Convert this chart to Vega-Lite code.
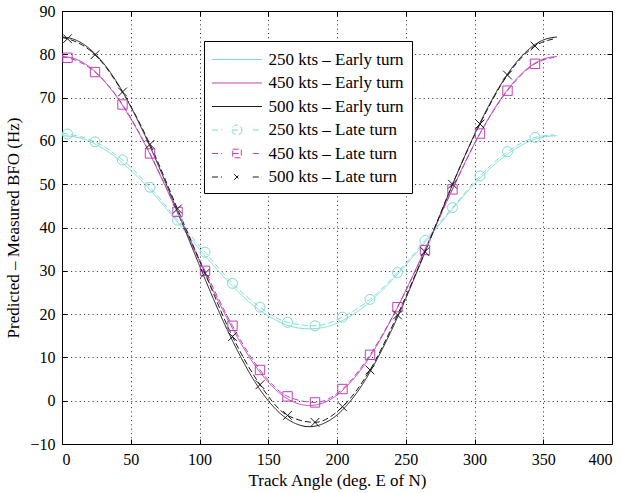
{
  "$schema": "https://vega.github.io/schema/vega-lite/v6.json",
  "width": 550,
  "height": 433,
  "autosize": {"type": "none"},
  "padding": {"left": 62, "top": 11, "right": 9, "bottom": 49},
  "background": "white",
  "config": {
    "font": "Liberation Serif",
    "view": {"stroke": "black", "strokeWidth": 1},
    "axis": {
      "labelFont": "Liberation Serif", "labelFontSize": 16, "labelColor": "black",
      "titleFont": "Liberation Serif", "titleFontSize": 17, "titleFontWeight": "normal", "titleColor": "black",
      "domainColor": "black", "tickColor": "black",
      "gridColor": "black", "gridDash": [1, 3.3], "gridOpacity": 0.85, "gridWidth": 1
    },
    "legend": {"labelFont": "Liberation Serif", "labelFontSize": 17, "labelColor": "black"}
  },
  "data": {"values": [
    {"angle":0,"bfo":61.2,"series":"250 kts – Early turn","m":0},{"angle":10,"bfo":60.9,"series":"250 kts – Early turn","m":0},{"angle":20,"bfo":59.9,"series":"250 kts – Early turn","m":0},{"angle":30,"bfo":58.2,"series":"250 kts – Early turn","m":0},{"angle":40,"bfo":56.0,"series":"250 kts – Early turn","m":0},{"angle":50,"bfo":53.2,"series":"250 kts – Early turn","m":0},{"angle":60,"bfo":50.1,"series":"250 kts – Early turn","m":0},{"angle":70,"bfo":46.5,"series":"250 kts – Early turn","m":0},{"angle":80,"bfo":42.8,"series":"250 kts – Early turn","m":0},{"angle":90,"bfo":38.9,"series":"250 kts – Early turn","m":0},{"angle":100,"bfo":35.0,"series":"250 kts – Early turn","m":0},{"angle":110,"bfo":31.3,"series":"250 kts – Early turn","m":0},{"angle":120,"bfo":27.8,"series":"250 kts – Early turn","m":0},{"angle":130,"bfo":24.6,"series":"250 kts – Early turn","m":0},{"angle":140,"bfo":21.8,"series":"250 kts – Early turn","m":0},{"angle":150,"bfo":19.6,"series":"250 kts – Early turn","m":0},{"angle":160,"bfo":17.9,"series":"250 kts – Early turn","m":0},{"angle":170,"bfo":16.9,"series":"250 kts – Early turn","m":0},{"angle":180,"bfo":16.6,"series":"250 kts – Early turn","m":0},{"angle":190,"bfo":16.9,"series":"250 kts – Early turn","m":0},{"angle":200,"bfo":17.9,"series":"250 kts – Early turn","m":0},{"angle":210,"bfo":19.6,"series":"250 kts – Early turn","m":0},{"angle":220,"bfo":21.8,"series":"250 kts – Early turn","m":0},{"angle":230,"bfo":24.6,"series":"250 kts – Early turn","m":0},{"angle":240,"bfo":27.8,"series":"250 kts – Early turn","m":0},{"angle":250,"bfo":31.3,"series":"250 kts – Early turn","m":0},{"angle":260,"bfo":35.0,"series":"250 kts – Early turn","m":0},{"angle":270,"bfo":38.9,"series":"250 kts – Early turn","m":0},{"angle":280,"bfo":42.8,"series":"250 kts – Early turn","m":0},{"angle":290,"bfo":46.5,"series":"250 kts – Early turn","m":0},{"angle":300,"bfo":50.1,"series":"250 kts – Early turn","m":0},{"angle":310,"bfo":53.2,"series":"250 kts – Early turn","m":0},{"angle":320,"bfo":56.0,"series":"250 kts – Early turn","m":0},{"angle":330,"bfo":58.2,"series":"250 kts – Early turn","m":0},{"angle":340,"bfo":59.9,"series":"250 kts – Early turn","m":0},{"angle":350,"bfo":60.9,"series":"250 kts – Early turn","m":0},{"angle":360,"bfo":61.2,"series":"250 kts – Early turn","m":0},
    {"angle":0,"bfo":79.5,"series":"450 kts – Early turn","m":0},{"angle":10,"bfo":78.9,"series":"450 kts – Early turn","m":0},{"angle":20,"bfo":77.1,"series":"450 kts – Early turn","m":0},{"angle":30,"bfo":74.1,"series":"450 kts – Early turn","m":0},{"angle":40,"bfo":70.1,"series":"450 kts – Early turn","m":0},{"angle":50,"bfo":65.1,"series":"450 kts – Early turn","m":0},{"angle":60,"bfo":59.4,"series":"450 kts – Early turn","m":0},{"angle":70,"bfo":53.0,"series":"450 kts – Early turn","m":0},{"angle":80,"bfo":46.2,"series":"450 kts – Early turn","m":0},{"angle":90,"bfo":39.2,"series":"450 kts – Early turn","m":0},{"angle":100,"bfo":32.2,"series":"450 kts – Early turn","m":0},{"angle":110,"bfo":25.4,"series":"450 kts – Early turn","m":0},{"angle":120,"bfo":19.1,"series":"450 kts – Early turn","m":0},{"angle":130,"bfo":13.3,"series":"450 kts – Early turn","m":0},{"angle":140,"bfo":8.3,"series":"450 kts – Early turn","m":0},{"angle":150,"bfo":4.3,"series":"450 kts – Early turn","m":0},{"angle":160,"bfo":1.3,"series":"450 kts – Early turn","m":0},{"angle":170,"bfo":-0.5,"series":"450 kts – Early turn","m":0},{"angle":180,"bfo":-1.1,"series":"450 kts – Early turn","m":0},{"angle":190,"bfo":-0.5,"series":"450 kts – Early turn","m":0},{"angle":200,"bfo":1.3,"series":"450 kts – Early turn","m":0},{"angle":210,"bfo":4.3,"series":"450 kts – Early turn","m":0},{"angle":220,"bfo":8.3,"series":"450 kts – Early turn","m":0},{"angle":230,"bfo":13.3,"series":"450 kts – Early turn","m":0},{"angle":240,"bfo":19.1,"series":"450 kts – Early turn","m":0},{"angle":250,"bfo":25.4,"series":"450 kts – Early turn","m":0},{"angle":260,"bfo":32.2,"series":"450 kts – Early turn","m":0},{"angle":270,"bfo":39.2,"series":"450 kts – Early turn","m":0},{"angle":280,"bfo":46.2,"series":"450 kts – Early turn","m":0},{"angle":290,"bfo":53.0,"series":"450 kts – Early turn","m":0},{"angle":300,"bfo":59.4,"series":"450 kts – Early turn","m":0},{"angle":310,"bfo":65.1,"series":"450 kts – Early turn","m":0},{"angle":320,"bfo":70.1,"series":"450 kts – Early turn","m":0},{"angle":330,"bfo":74.1,"series":"450 kts – Early turn","m":0},{"angle":340,"bfo":77.1,"series":"450 kts – Early turn","m":0},{"angle":350,"bfo":78.9,"series":"450 kts – Early turn","m":0},{"angle":360,"bfo":79.5,"series":"450 kts – Early turn","m":0},
    {"angle":0,"bfo":84.0,"series":"500 kts – Early turn","m":0},{"angle":10,"bfo":83.3,"series":"500 kts – Early turn","m":0},{"angle":20,"bfo":81.3,"series":"500 kts – Early turn","m":0},{"angle":30,"bfo":78.0,"series":"500 kts – Early turn","m":0},{"angle":40,"bfo":73.5,"series":"500 kts – Early turn","m":0},{"angle":50,"bfo":67.9,"series":"500 kts – Early turn","m":0},{"angle":60,"bfo":61.5,"series":"500 kts – Early turn","m":0},{"angle":70,"bfo":54.4,"series":"500 kts – Early turn","m":0},{"angle":80,"bfo":46.8,"series":"500 kts – Early turn","m":0},{"angle":90,"bfo":39.0,"series":"500 kts – Early turn","m":0},{"angle":100,"bfo":31.2,"series":"500 kts – Early turn","m":0},{"angle":110,"bfo":23.6,"series":"500 kts – Early turn","m":0},{"angle":120,"bfo":16.5,"series":"500 kts – Early turn","m":0},{"angle":130,"bfo":10.1,"series":"500 kts – Early turn","m":0},{"angle":140,"bfo":4.5,"series":"500 kts – Early turn","m":0},{"angle":150,"bfo":0.0,"series":"500 kts – Early turn","m":0},{"angle":160,"bfo":-3.3,"series":"500 kts – Early turn","m":0},{"angle":170,"bfo":-5.3,"series":"500 kts – Early turn","m":0},{"angle":180,"bfo":-6.0,"series":"500 kts – Early turn","m":0},{"angle":190,"bfo":-5.3,"series":"500 kts – Early turn","m":0},{"angle":200,"bfo":-3.3,"series":"500 kts – Early turn","m":0},{"angle":210,"bfo":0.0,"series":"500 kts – Early turn","m":0},{"angle":220,"bfo":4.5,"series":"500 kts – Early turn","m":0},{"angle":230,"bfo":10.1,"series":"500 kts – Early turn","m":0},{"angle":240,"bfo":16.5,"series":"500 kts – Early turn","m":0},{"angle":250,"bfo":23.6,"series":"500 kts – Early turn","m":0},{"angle":260,"bfo":31.2,"series":"500 kts – Early turn","m":0},{"angle":270,"bfo":39.0,"series":"500 kts – Early turn","m":0},{"angle":280,"bfo":46.8,"series":"500 kts – Early turn","m":0},{"angle":290,"bfo":54.4,"series":"500 kts – Early turn","m":0},{"angle":300,"bfo":61.5,"series":"500 kts – Early turn","m":0},{"angle":310,"bfo":67.9,"series":"500 kts – Early turn","m":0},{"angle":320,"bfo":73.5,"series":"500 kts – Early turn","m":0},{"angle":330,"bfo":78.0,"series":"500 kts – Early turn","m":0},{"angle":340,"bfo":81.3,"series":"500 kts – Early turn","m":0},{"angle":350,"bfo":83.3,"series":"500 kts – Early turn","m":0},{"angle":360,"bfo":84.0,"series":"500 kts – Early turn","m":0},
    {"angle":0,"bfo":61.8,"series":"250 kts – Late turn","m":0},{"angle":4,"bfo":61.6,"series":"250 kts – Late turn","m":1},{"angle":24,"bfo":59.8,"series":"250 kts – Late turn","m":1},{"angle":44,"bfo":55.6,"series":"250 kts – Late turn","m":1},{"angle":64,"bfo":49.3,"series":"250 kts – Late turn","m":1},{"angle":84,"bfo":41.7,"series":"250 kts – Late turn","m":1},{"angle":104,"bfo":34.3,"series":"250 kts – Late turn","m":1},{"angle":124,"bfo":27.1,"series":"250 kts – Late turn","m":1},{"angle":144,"bfo":21.6,"series":"250 kts – Late turn","m":1},{"angle":164,"bfo":18.1,"series":"250 kts – Late turn","m":1},{"angle":184,"bfo":17.3,"series":"250 kts – Late turn","m":1},{"angle":204,"bfo":19.3,"series":"250 kts – Late turn","m":1},{"angle":224,"bfo":23.4,"series":"250 kts – Late turn","m":1},{"angle":244,"bfo":29.6,"series":"250 kts – Late turn","m":1},{"angle":264,"bfo":37.0,"series":"250 kts – Late turn","m":1},{"angle":284,"bfo":44.6,"series":"250 kts – Late turn","m":1},{"angle":304,"bfo":51.9,"series":"250 kts – Late turn","m":1},{"angle":324,"bfo":57.5,"series":"250 kts – Late turn","m":1},{"angle":344,"bfo":60.8,"series":"250 kts – Late turn","m":1},{"angle":358,"bfo":61.4,"series":"250 kts – Late turn","m":0},
    {"angle":0,"bfo":79.4,"series":"450 kts – Late turn","m":0},{"angle":4,"bfo":79.2,"series":"450 kts – Late turn","m":1},{"angle":24,"bfo":75.9,"series":"450 kts – Late turn","m":1},{"angle":44,"bfo":68.4,"series":"450 kts – Late turn","m":1},{"angle":64,"bfo":57.1,"series":"450 kts – Late turn","m":1},{"angle":84,"bfo":43.6,"series":"450 kts – Late turn","m":1},{"angle":104,"bfo":30.0,"series":"450 kts – Late turn","m":1},{"angle":124,"bfo":17.3,"series":"450 kts – Late turn","m":1},{"angle":144,"bfo":7.1,"series":"450 kts – Late turn","m":1},{"angle":164,"bfo":1.0,"series":"450 kts – Late turn","m":1},{"angle":184,"bfo":-0.4,"series":"450 kts – Late turn","m":1},{"angle":204,"bfo":2.7,"series":"450 kts – Late turn","m":1},{"angle":224,"bfo":10.6,"series":"450 kts – Late turn","m":1},{"angle":244,"bfo":21.6,"series":"450 kts – Late turn","m":1},{"angle":264,"bfo":34.8,"series":"450 kts – Late turn","m":1},{"angle":284,"bfo":48.8,"series":"450 kts – Late turn","m":1},{"angle":304,"bfo":61.7,"series":"450 kts – Late turn","m":1},{"angle":324,"bfo":71.6,"series":"450 kts – Late turn","m":1},{"angle":344,"bfo":77.8,"series":"450 kts – Late turn","m":1},{"angle":358,"bfo":79.3,"series":"450 kts – Late turn","m":0},
    {"angle":0,"bfo":83.9,"series":"500 kts – Late turn","m":0},{"angle":4,"bfo":83.6,"series":"500 kts – Late turn","m":1},{"angle":24,"bfo":79.9,"series":"500 kts – Late turn","m":1},{"angle":44,"bfo":71.3,"series":"500 kts – Late turn","m":1},{"angle":64,"bfo":59.2,"series":"500 kts – Late turn","m":1},{"angle":84,"bfo":44.3,"series":"500 kts – Late turn","m":1},{"angle":104,"bfo":29.4,"series":"500 kts – Late turn","m":1},{"angle":124,"bfo":14.8,"series":"500 kts – Late turn","m":1},{"angle":144,"bfo":3.7,"series":"500 kts – Late turn","m":1},{"angle":164,"bfo":-3.4,"series":"500 kts – Late turn","m":1},{"angle":184,"bfo":-5.0,"series":"500 kts – Late turn","m":1},{"angle":204,"bfo":-1.4,"series":"500 kts – Late turn","m":1},{"angle":224,"bfo":7.1,"series":"500 kts – Late turn","m":1},{"angle":244,"bfo":19.8,"series":"500 kts – Late turn","m":1},{"angle":264,"bfo":34.4,"series":"500 kts – Late turn","m":1},{"angle":284,"bfo":50.0,"series":"500 kts – Late turn","m":1},{"angle":304,"bfo":63.9,"series":"500 kts – Late turn","m":1},{"angle":324,"bfo":75.2,"series":"500 kts – Late turn","m":1},{"angle":344,"bfo":81.9,"series":"500 kts – Late turn","m":1},{"angle":358,"bfo":83.6,"series":"500 kts – Late turn","m":0}
  ]},
  "resolve": {"axis": {"x": "independent", "y": "independent"}},
  "layer": [
    {
      "mark": {"type": "line", "strokeWidth": 1, "interpolate": "monotone"},
      "encoding": {
        "x": {"field": "angle", "type": "quantitative", "scale": {"domain": [0, 400], "nice": false},
              "axis": {"orient": "bottom", "values": [0,50,100,150,200,250,300,350,400], "grid": true, "tickSize": -5, "labelPadding": 12, "title": "Track Angle (deg. E of N)", "titlePadding": 5, "domain": false}},
        "y": {"field": "bfo", "type": "quantitative", "scale": {"domain": [-10, 90], "nice": false},
              "axis": {"orient": "left", "values": [-10,0,10,20,30,40,50,60,70,80,90], "grid": true, "tickSize": -5, "labelPadding": 12, "title": "Predicted – Measured BFO (Hz)", "titlePadding": 7, "domain": false}},
        "color": {"field": "series", "type": "nominal",
          "scale": {"domain": ["250 kts – Early turn","450 kts – Early turn","500 kts – Early turn","250 kts – Late turn","450 kts – Late turn","500 kts – Late turn"],
                    "range": ["#7fdcd4","#c040b8","#1a1a1a","#7fdcd4","#c040b8","#1a1a1a"]},
          "legend": {
            "title": null, "orient": "none", "legendX": 142, "legendY": 30,
            "strokeColor": "black", "fillColor": "white", "padding": 8,
            "symbolSize": 400, "symbolStrokeWidth": 1, "symbolOffset": 14.5, "labelOffset": 21, "rowPadding": 4.5,
            "encode": {"symbols": {"update": {
              "shape": {"signal": "indexof(datum.value, 'Early') >= 0 ? 'M-2.5,0L2.5,0' : indexof(datum.value, '250') >= 0 ? 'M-2.5,0L-1.5,0M-0.5,0L0.5,0M1.58,0L2.5,0M0.5,0A0.5,0.5,0,1,1,-0.5,0A0.5,0.5,0,1,1,0.5,0' : indexof(datum.value, '450') >= 0 ? 'M-2.5,0L-1.5,0M-0.43,0L0.43,0M1.58,0L2.5,0M-0.43,-0.43L0.43,-0.43L0.43,0.43L-0.43,0.43Z' : 'M-2.5,0L-1.5,0M1.58,0L2.5,0M-0.28,-0.28L0.28,0.28M-0.28,0.28L0.28,-0.28'"},
              "stroke": {"scale": "color", "field": "value"},
              "fill": {"value": "transparent"},
              "strokeDash": {"value": [1, 0]}
            }}}
          }},
        "strokeDash": {"field": "series", "type": "nominal", "legend": null,
          "scale": {"domain": ["250 kts – Early turn","450 kts – Early turn","500 kts – Early turn","250 kts – Late turn","450 kts – Late turn","500 kts – Late turn"],
                    "range": [[1,0],[1,0],[1,0],[6,3],[6,3],[6,3]]}}
      }
    },
    {
      "transform": [{"filter": "datum.m == 1"}],
      "mark": {"type": "point", "filled": false, "strokeWidth": 1, "opacity": 1},
      "encoding": {
        "x": {"field": "angle", "type": "quantitative", "axis": null},
        "y": {"field": "bfo", "type": "quantitative", "axis": null},
        "shape": {"field": "series", "type": "nominal", "legend": null,
          "scale": {"domain": ["250 kts – Late turn","450 kts – Late turn","500 kts – Late turn"],
                    "range": ["circle","square","M-1,-1L1,1M-1,1L1,-1"]}},
        "stroke": {"field": "series", "type": "nominal", "legend": null,
          "scale": {"domain": ["250 kts – Late turn","450 kts – Late turn","500 kts – Late turn"],
                    "range": ["#7fdcd4","#c040b8","#1a1a1a"]}},
        "size": {"field": "series", "type": "nominal", "legend": null,
          "scale": {"domain": ["250 kts – Late turn","450 kts – Late turn","500 kts – Late turn"],
                    "range": [100, 76, 70]}}
      }
    },
    {
      "transform": [{"filter": "datum.m == 1"}],
      "mark": {"type": "line", "opacity": 0},
      "encoding": {
        "x": {"field": "angle", "type": "quantitative",
              "axis": {"orient": "top", "values": [0,50,100,150,200,250,300,350,400], "labels": false, "grid": false, "tickSize": -5, "title": null, "domain": false}},
        "y": {"field": "bfo", "type": "quantitative",
              "axis": {"orient": "right", "values": [-10,0,10,20,30,40,50,60,70,80,90], "labels": false, "grid": false, "tickSize": -5, "title": null, "domain": false}}
      }
    }
  ]
}
